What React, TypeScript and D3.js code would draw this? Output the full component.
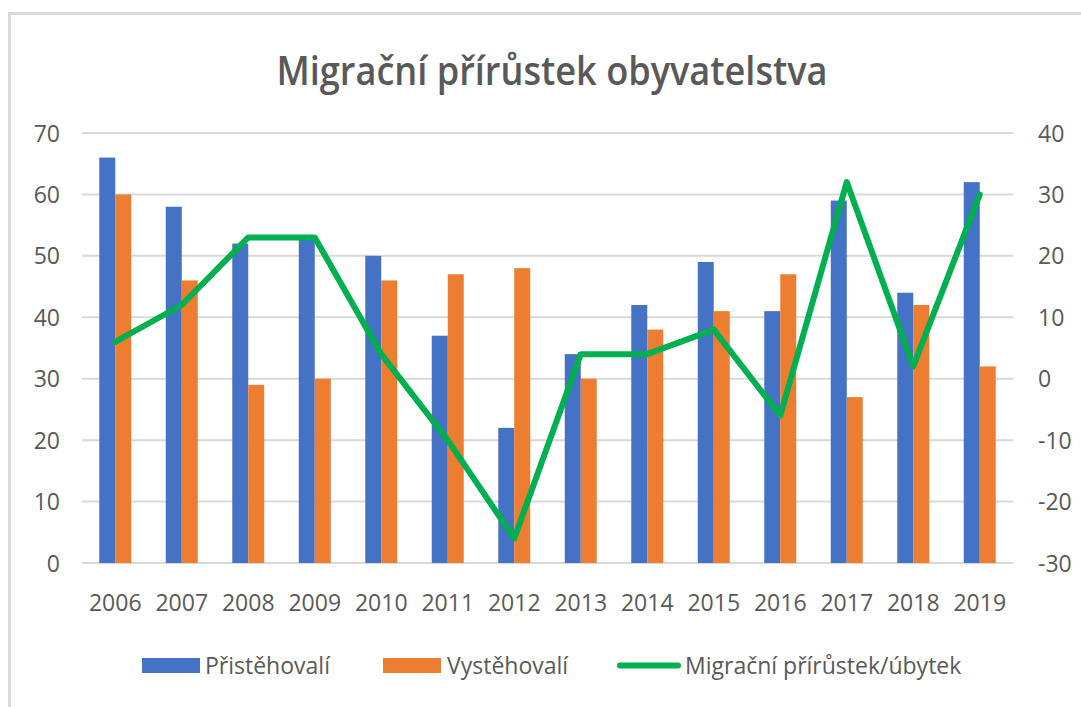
import { useEffect, useRef } from "react";
import * as d3 from "d3";

const years = ["2006", "2007", "2008", "2009", "2010", "2011", "2012", "2013", "2014", "2015", "2016", "2017", "2018", "2019"];
const prist = [66, 58, 52, 53, 50, 37, 22, 34, 42, 49, 41, 59, 44, 62];
const vyst = [60, 46, 29, 30, 46, 47, 48, 30, 38, 41, 47, 27, 42, 32];
const prirustek = [6, 12, 23, 23, 4, -10, -26, 4, 4, 8, -6, 32, 2, 30];
const leftTicks = [0, 10, 20, 30, 40, 50, 60, 70];
const rightTicks = [-30, -20, -10, 0, 10, 20, 30, 40];

const FONT = "'Open Sans', 'Noto Sans', sans-serif";

export default function App() {
  const ref = useRef<SVGSVGElement | null>(null);

  useEffect(() => {
    if (!ref.current) return;
    const width = 1081;
    const height = 707;
    const margin = { top: 133, right: 68, bottom: 144, left: 82 };

    const svg = d3.select(ref.current).attr("width", width).attr("height", height);
    svg.selectAll("*").remove();

    svg.append("rect").attr("width", width).attr("height", height).attr("fill", "#fff");
    // chart frame (cut by the screenshot at right/bottom)
    svg.append("rect")
      .attr("x", 9.5).attr("y", 13.5)
      .attr("width", width + 20).attr("height", height + 20)
      .attr("fill", "none").attr("stroke", "#d9d9d9").attr("stroke-width", 3);

    /* ---------------- SCALES ---------------- */
    const x = d3.scaleBand().domain(years).range([margin.left, width - margin.right]).padding(0);
    const x1 = d3.scaleBand().domain(["p", "v"]).range([0, x.bandwidth()]).paddingInner(0).paddingOuter(1.08);
    const yL = d3.scaleLinear().domain([0, 70]).range([height - margin.bottom, margin.top]);
    const yR = d3.scaleLinear().domain([-30, 40]).range([height - margin.bottom, margin.top]);

    /* ---------------- GRID ---------------- */
    svg.append("g")
      .selectAll("line")
      .data(leftTicks)
      .enter()
      .append("line")
      .attr("x1", margin.left).attr("x2", width - margin.right)
      .attr("y1", d => yL(d)).attr("y2", d => yL(d))
      .attr("stroke", "#d9d9d9").attr("stroke-width", 2);

    /* ---------------- AXIS LABELS ---------------- */
    svg.append("g")
      .selectAll("text")
      .data(leftTicks)
      .enter()
      .append("text")
      .attr("x", 60).attr("y", d => yL(d) + 8.5)
      .attr("text-anchor", "end")
      .attr("font-family", FONT).attr("font-size", 23).attr("fill", "#595959")
      .text(d => d);

    svg.append("g")
      .selectAll("text")
      .data(rightTicks)
      .enter()
      .append("text")
      .attr("x", 1038).attr("y", d => yR(d) + 8.5)
      .attr("font-family", FONT).attr("font-size", 23).attr("fill", "#595959")
      .text(d => d);

    svg.append("g")
      .selectAll("text")
      .data(years)
      .enter()
      .append("text")
      .attr("x", d => x(d)! + x.bandwidth() / 2).attr("y", 611)
      .attr("text-anchor", "middle")
      .attr("font-family", FONT).attr("font-size", 23).attr("fill", "#595959")
      .text(d => d);

    /* ---------------- BARS ---------------- */
    svg.append("g")
      .selectAll("rect")
      .data(years)
      .enter()
      .append("rect")
      .attr("x", d => x(d)! + x1("p")!)
      .attr("y", (_, i) => yL(prist[i]))
      .attr("width", x1.bandwidth())
      .attr("height", (_, i) => yL(0) - yL(prist[i]))
      .attr("fill", "#4472c4");

    svg.append("g")
      .selectAll("rect")
      .data(years)
      .enter()
      .append("rect")
      .attr("x", d => x(d)! + x1("v")!)
      .attr("y", (_, i) => yL(vyst[i]))
      .attr("width", x1.bandwidth())
      .attr("height", (_, i) => yL(0) - yL(vyst[i]))
      .attr("fill", "#ed7d31");

    /* ---------------- LINE ---------------- */
    const line = d3.line<number>()
      .x((_, i) => x(years[i])! + x.bandwidth() / 2)
      .y(d => yR(d));

    svg.append("path")
      .datum(prirustek)
      .attr("fill", "none")
      .attr("stroke", "#00b050")
      .attr("stroke-width", 6)
      .attr("stroke-linejoin", "round")
      .attr("stroke-linecap", "round")
      .attr("d", line);

    /* ---------------- TITLE ---------------- */
    svg.append("text")
      .attr("x", 552).attr("y", 85)
      .attr("text-anchor", "middle")
      .attr("font-family", FONT).attr("font-size", 40).attr("font-weight", 600)
      .attr("fill", "#595959")
      .attr("textLength", 551).attr("lengthAdjust", "spacingAndGlyphs")
      .text("Migrační přírůstek obyvatelstva");

    /* ---------------- LEGEND ---------------- */
    const lg = svg.append("g").attr("font-family", FONT).attr("font-size", 23).attr("fill", "#595959");
    lg.append("rect").attr("x", 142).attr("y", 658).attr("width", 58).attr("height", 15).attr("fill", "#4472c4");
    lg.append("text").attr("x", 205).attr("y", 674).text("Přistěhovalí");
    lg.append("rect").attr("x", 383).attr("y", 658).attr("width", 58).attr("height", 15).attr("fill", "#ed7d31");
    lg.append("text").attr("x", 447).attr("y", 674).text("Vystěhovalí");
    lg.append("line").attr("x1", 620).attr("x2", 678).attr("y1", 665.5).attr("y2", 665.5)
      .attr("stroke", "#00b050").attr("stroke-width", 6).attr("stroke-linecap", "round");
    lg.append("text").attr("x", 685).attr("y", 674).text("Migrační přírůstek/úbytek");
  }, []);

  return <svg ref={ref} style={{ position: "absolute", left: 0, top: 0, display: "block" }} />;
}
